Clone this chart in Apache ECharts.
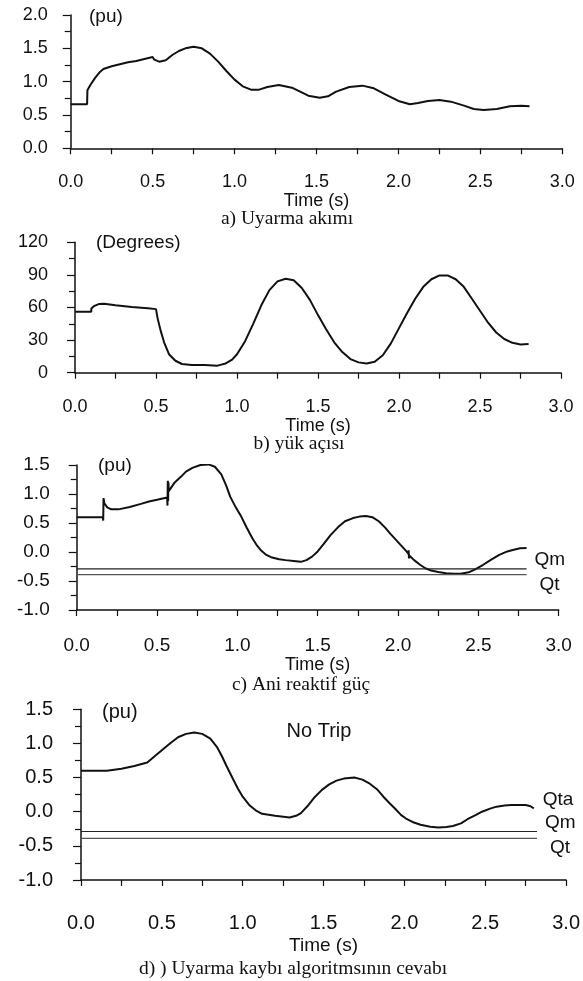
<!DOCTYPE html>
<html>
<head>
<meta charset="utf-8">
<script src="https://cdn.jsdelivr.net/npm/echarts@6/dist/echarts.min.js"></script>
<style>
  html, body { margin: 0; padding: 0; background: #fff; }
  #chart { width: 583px; height: 981px; }
</style>
</head>
<body>
<div id="chart"></div>
<script>
// a) Uyarma akımı (pu)
const excTime = [0, 0.1, 0.102, 0.12, 0.15, 0.18, 0.2, 0.25, 0.3, 0.35, 0.4, 0.45, 0.5, 0.51, 0.54, 0.58, 0.62, 0.66, 0.7, 0.75, 0.8, 0.85, 0.9, 0.95, 1.0, 1.05, 1.1, 1.15, 1.2, 1.27, 1.35, 1.4, 1.45, 1.52, 1.57, 1.62, 1.7, 1.78, 1.85, 1.92, 2.0, 2.07, 2.12, 2.18, 2.25, 2.32, 2.4, 2.46, 2.52, 2.6, 2.68, 2.75, 2.8];
const excValue = [0.66, 0.66, 0.87, 0.95, 1.06, 1.15, 1.19, 1.23, 1.26, 1.29, 1.31, 1.34, 1.37, 1.33, 1.3, 1.32, 1.4, 1.46, 1.5, 1.525, 1.5, 1.42, 1.3, 1.16, 1.03, 0.93, 0.88, 0.88, 0.92, 0.95, 0.91, 0.85, 0.79, 0.76, 0.78, 0.85, 0.92, 0.94, 0.9, 0.81, 0.71, 0.66, 0.68, 0.71, 0.725, 0.7, 0.64, 0.59, 0.575, 0.59, 0.63, 0.64, 0.63];

// b) yük açısı (Degrees)
const angTime = [0, 0.1, 0.101, 0.12, 0.15, 0.18, 0.25, 0.35, 0.45, 0.5, 0.51, 0.53, 0.55, 0.58, 0.62, 0.66, 0.72, 0.8, 0.88, 0.93, 0.97, 1.0, 1.05, 1.1, 1.15, 1.2, 1.25, 1.3, 1.35, 1.4, 1.45, 1.5, 1.55, 1.6, 1.65, 1.7, 1.75, 1.8, 1.85, 1.9, 1.95, 2.0, 2.05, 2.1, 2.15, 2.2, 2.25, 2.3, 2.35, 2.4, 2.45, 2.5, 2.55, 2.6, 2.65, 2.7, 2.75, 2.8];
const angValue = [56, 56, 59, 61.5, 63.3, 63.5, 62, 60.5, 59.3, 58.5, 50, 38, 28, 17, 11, 8, 7, 7, 6.5, 8.5, 12, 17, 29, 45, 62, 76, 84, 86.5, 85, 78, 67, 53, 40, 28, 19, 12.5, 9.5, 8.5, 10, 16, 27, 41, 55, 68, 79, 86, 89.5, 89.5, 86, 79, 68, 57, 46, 37, 31, 27.5, 26, 26.5];

// c) Ani reaktif güç (pu)
const qTime = [0, 0.163, 0.165, 0.167, 0.172, 0.19, 0.215, 0.26, 0.33, 0.4, 0.45, 0.5, 0.563, 0.565, 0.567, 0.569, 0.571, 0.573, 0.61, 0.65, 0.68, 0.72, 0.77, 0.82, 0.86, 0.9, 0.93, 0.956, 0.99, 1.025, 1.06, 1.095, 1.12, 1.15, 1.18, 1.21, 1.26, 1.3, 1.35, 1.395, 1.43, 1.465, 1.5, 1.535, 1.58, 1.627, 1.67, 1.72, 1.76, 1.8, 1.84, 1.88, 1.92, 1.95, 1.99, 2.02, 2.05, 2.065, 2.066, 2.068, 2.07, 2.1, 2.137, 2.17, 2.206, 2.25, 2.3, 2.35, 2.39, 2.44, 2.48, 2.53, 2.58, 2.63, 2.68, 2.72, 2.76, 2.8];
const qValue = [0.6, 0.6, 0.54, 0.93, 0.84, 0.77, 0.735, 0.735, 0.775, 0.83, 0.87, 0.9, 0.94, 0.8, 1.23, 0.88, 1.2, 1.05, 1.2, 1.3, 1.385, 1.45, 1.5, 1.51, 1.47, 1.34, 1.15, 0.95, 0.77, 0.606, 0.41, 0.23, 0.12, 0.02, -0.05, -0.09, -0.125, -0.14, -0.155, -0.17, -0.14, -0.08, 0.01, 0.13, 0.29, 0.43, 0.53, 0.585, 0.61, 0.62, 0.6, 0.53, 0.42, 0.32, 0.2, 0.11, 0.02, -0.03, 0.03, -0.11, -0.06, -0.14, -0.22, -0.28, -0.32, -0.345, -0.365, -0.375, -0.375, -0.35, -0.3, -0.22, -0.13, -0.05, 0.01, 0.04, 0.065, 0.07];

// d) Uyarma kaybı algoritması cevabı, Qta (pu)
const qtaTime = [0, 0.1, 0.16, 0.25, 0.33, 0.41, 0.45, 0.5, 0.55, 0.6, 0.65, 0.7, 0.75, 0.8, 0.84, 0.87, 0.9, 0.94, 0.97, 1.0, 1.04, 1.08, 1.12, 1.2, 1.29, 1.33, 1.36, 1.4, 1.44, 1.49, 1.535, 1.58, 1.625, 1.69, 1.74, 1.78, 1.83, 1.87, 1.91, 1.94, 1.98, 2.01, 2.05, 2.1, 2.16, 2.21, 2.26, 2.3, 2.35, 2.39, 2.44, 2.48, 2.53, 2.57, 2.62, 2.66, 2.7, 2.75, 2.78, 2.8];
const qtaValue = [0.6, 0.6, 0.6, 0.63, 0.67, 0.72, 0.8, 0.9, 1.0, 1.09, 1.14, 1.16, 1.14, 1.07, 0.95, 0.82, 0.67, 0.48, 0.34, 0.22, 0.1, 0.02, -0.03, -0.06, -0.085, -0.06, -0.02, 0.08, 0.2, 0.32, 0.4, 0.455, 0.485, 0.5, 0.47, 0.42, 0.33, 0.22, 0.12, 0.05, -0.05, -0.1, -0.15, -0.19, -0.22, -0.23, -0.225, -0.21, -0.17, -0.11, -0.05, 0.0, 0.045, 0.074, 0.09, 0.098, 0.1, 0.098, 0.08, 0.05];

// eşik seviyeleri
const thrTimeC = [0, 2.8];
const thrTimeD = [0, 2.82];
const qmLevel = [-0.29, -0.29];
const qtLevel = [-0.39, -0.39];

const xTicks = [0, 3, 0.5];
const yRanges = [[0, 2, 0.5], [0, 120, 30], [-1, 1.5, 0.5], [-1, 1.5, 0.5]];

const SANS = 'Liberation Sans, Arial, sans-serif';
const SERIF = 'Liberation Serif, Times New Roman, serif';
const INK = '#111';

function zip(t, v) {
    return t.map((x, i) => [x, v[i]]);
}

const grids = [
    { left: 70.7, top: 15, width: 491.6, height: 133.3 },
    { left: 75, top: 242.3, width: 486, height: 130.4 },
    { left: 76.7, top: 465, width: 482, height: 145 },
    { left: 81, top: 709.3, width: 496, height: 170.7 }
];
const xLabelMargin = [25, 25, 26, 33];
const xNameGap = [42, 42, 41, 56];
const yLabelMargin = [23, 27, 27, 28];
const timeFont = [18, 18, 18, 19];
const tickFont = [18, 18, 19, 20];

const chart = echarts.init(document.getElementById('chart'), null, { renderer: 'canvas' });

const xAxes = grids.map((g, i) => ({
    type: 'value', gridIndex: i,
    min: xTicks[0], max: xTicks[1], interval: xTicks[2],
    name: 'Time (s)', nameLocation: 'middle', nameGap: xNameGap[i],
    nameTextStyle: { color: INK, fontFamily: SANS, fontSize: timeFont[i] },
    axisLine: { show: true, onZero: false, lineStyle: { color: INK, width: 1.5 } },
    axisTick: { show: true, length: 6, lineStyle: { color: INK, width: 1.2 } },
    minorTick: { show: true, splitNumber: 2, length: 6, lineStyle: { color: INK, width: 1.2 } },
    splitLine: { show: false },
    axisLabel: { color: INK, fontFamily: SANS, fontSize: tickFont[i], margin: xLabelMargin[i],
        formatter: v => v.toFixed(1) }
}));

const yAxes = yRanges.map((r, i) => ({
    type: 'value', gridIndex: i,
    min: r[0], max: r[1], interval: r[2],
    axisLine: { show: true, onZero: false, lineStyle: { color: INK, width: 1.5 } },
    axisTick: { show: true, length: 8, lineStyle: { color: INK, width: 1.2 } },
    minorTick: { show: true, splitNumber: 2, length: 6, lineStyle: { color: INK, width: 1.2 } },
    splitLine: { show: false },
    axisLabel: { color: INK, fontFamily: SANS, fontSize: tickFont[i], margin: yLabelMargin[i],
        formatter: v => (i === 1 ? String(v) : v.toFixed(1)) }
}));

function curve(i, data) {
    return {
        type: 'line', xAxisIndex: i, yAxisIndex: i, data: data,
        showSymbol: false, symbol: 'none', smooth: false, animation: false,
        lineStyle: { color: INK, width: 2 }
    };
}

function level(i, data, name, offset, color) {
    return {
        type: 'line', xAxisIndex: i, yAxisIndex: i, data: data,
        showSymbol: false, symbol: 'none', animation: false,
        lineStyle: { color: color, width: 1.2 },
        endLabel: { show: true, formatter: name, color: INK, fontFamily: SANS, fontSize: 19,
            distance: 0, offset: offset }
    };
}

const qtaSeries = curve(3, zip(qtaTime, qtaValue));
qtaSeries.endLabel = { show: true, formatter: 'Qta', color: INK, fontFamily: SANS, fontSize: 19,
    distance: 0, offset: [9, -9] };

function note(text, x, y, align, size) {
    return {
        type: 'text', x: x, y: y,
        style: { text: text, fill: INK, font: (size || 19) + 'px ' + SANS,
            textAlign: align || 'left', textVerticalAlign: 'middle' }
    };
}

function caption(text, x, y) {
    return {
        type: 'text', x: x, y: y,
        style: { text: text, fill: INK, font: '19.5px ' + SERIF, textAlign: 'center', textVerticalAlign: 'middle' }
    };
}

chart.setOption({
    backgroundColor: '#fff',
    animation: false,
    grid: grids.map(g => Object.assign({ containLabel: false }, g)),
    xAxis: xAxes,
    yAxis: yAxes,
    series: [
        curve(0, zip(excTime, excValue)),
        curve(1, zip(angTime, angValue)),
        curve(2, zip(qTime, qValue)),
        level(2, zip(thrTimeC, qmLevel), 'Qm', [8, -9], '#222'),
        level(2, zip(thrTimeC, qtLevel), 'Qt', [13, 10], '#555'),
        qtaSeries,
        level(3, zip(thrTimeD, qmLevel), 'Qm', [8, -9], '#222'),
        level(3, zip(thrTimeD, qtLevel), 'Qt', [13, 9], '#555')
    ],
    graphic: [
        note('(pu)', 89, 17, 'left', 19),
        note('(Degrees)', 96, 243, 'left', 19),
        note('(pu)', 98, 466, 'left', 19),
        note('(pu)', 102, 712, 'left', 20),
        note('No Trip', 319, 731, 'center', 20),
        caption('a) Uyarma akımı', 287, 219),
        caption('b) yük açısı', 299, 444),
        caption('c) Ani reaktif güç', 301, 685),
        caption('d) ) Uyarma kaybı algoritmsının cevabı', 293, 969)
    ]
});
</script>
</body>
</html>
